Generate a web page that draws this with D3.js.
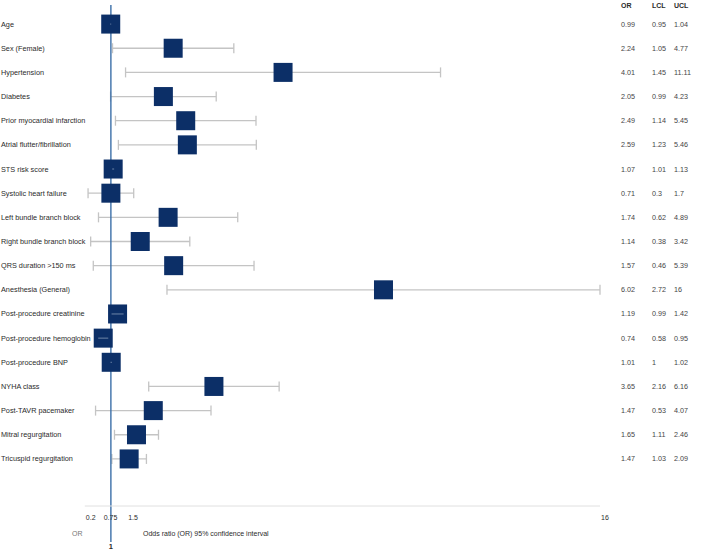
<!DOCTYPE html>
<html lang="en">
<head>
  <meta charset="UTF-8">
  <title>Forest plot</title>
  <style>
    body { margin: 0; padding: 0; background: #ffffff; font-family: "Liberation Sans", Arial, sans-serif; }
  </style>
</head>
<body>
<div id="chart"></div>
<script src="https://d3js.org/d3.v7.min.js"></script>
<script>
  const labels = ["Age", "Sex (Female)", "Hypertension", "Diabetes", "Prior myocardial infarction",
    "Atrial flutter/fibrillation", "STS risk score", "Systolic heart failure", "Left bundle branch block",
    "Right bundle branch block", "QRS duration >150 ms", "Anesthesia (General)", "Post-procedure creatinine",
    "Post-procedure hemoglobin", "Post-procedure BNP", "NYHA class", "Post-TAVR pacemaker",
    "Mitral regurgitation", "Tricuspid regurgitation"];
  const orVals  = [0.99, 2.24, 4.01, 2.05, 2.49, 2.59, 1.07, 0.71, 1.74, 1.14, 1.57, 6.02, 1.19, 0.74, 1.01, 3.65, 1.47, 1.65, 1.47];
  const lclVals = [0.95, 1.05, 1.45, 0.99, 1.14, 1.23, 1.01, 0.3, 0.62, 0.38, 0.46, 2.72, 0.99, 0.58, 1, 2.16, 0.53, 1.11, 1.03];
  const uclVals = [1.04, 4.77, 11.11, 4.23, 5.45, 5.46, 1.13, 1.7, 4.89, 3.42, 5.39, 16, 1.42, 0.95, 1.02, 6.16, 4.07, 2.46, 2.09];
  const tickVals = [0.2, 0.75, 1.5, 16];
  const refValue = 1;

  const width = 709, height = 550;
  const svg = d3.select("#chart").append("svg")
    .attr("width", width).attr("height", height);

  const x = d3.scaleLinear().domain([0.2, 16]).range([84.8, 600]);
  const y = d3.scaleBand().domain(labels).range([12, 471]);
  const cy = d => y(d) + y.bandwidth() / 2;
  const box = 19;
  const ink = "#2b2b2b";

  const rows = labels.map((l, i) => ({ label: l, or: orVals[i], lcl: lclVals[i], ucl: uclVals[i] }));

  // row labels
  svg.append("g").selectAll("text").data(rows).enter().append("text")
    .attr("x", 1).attr("y", d => cy(d.label) + 2.5)
    .attr("font-size", 7.3).attr("fill", ink).text(d => d.label);

  // whiskers
  const wg = svg.append("g").attr("stroke", "#c4c4c4").attr("stroke-width", 1.3);
  wg.selectAll("line.ci").data(rows).enter().append("line")
    .attr("x1", d => x(d.lcl)).attr("x2", d => x(d.ucl))
    .attr("y1", d => cy(d.label)).attr("y2", d => cy(d.label));
  wg.selectAll("line.lo").data(rows).enter().append("line")
    .attr("x1", d => x(d.lcl)).attr("x2", d => x(d.lcl))
    .attr("y1", d => cy(d.label) - 5).attr("y2", d => cy(d.label) + 5);
  wg.selectAll("line.hi").data(rows).enter().append("line")
    .attr("x1", d => x(d.ucl)).attr("x2", d => x(d.ucl))
    .attr("y1", d => cy(d.label) - 5).attr("y2", d => cy(d.label) + 5);

  // reference line at OR = 1
  svg.append("line")
    .attr("x1", x(refValue)).attr("x2", x(refValue))
    .attr("y1", 5).attr("y2", 542)
    .attr("stroke", "#3b6fa8").attr("stroke-width", 1.4);

  // boxes (placed at the middle of the interval)
  svg.append("g").selectAll("rect").data(rows).enter().append("rect")
    .attr("x", d => x((d.lcl + d.ucl) / 2) - box / 2)
    .attr("y", d => cy(d.label) - box / 2)
    .attr("width", box).attr("height", box)
    .attr("fill", "#0c2f67");

  // short intervals show through the box
  svg.append("g").selectAll("line").data(rows.filter(d => x(d.ucl) - x(d.lcl) < box)).enter().append("line")
    .attr("x1", d => x(d.lcl) + 1).attr("x2", d => x(d.ucl) - 1)
    .attr("y1", d => cy(d.label)).attr("y2", d => cy(d.label))
    .attr("stroke", "#6f86a8").attr("stroke-width", 1);

  // value columns
  const cols = [["OR", "or", 621], ["LCL", "lcl", 652], ["UCL", "ucl", 674]];
  cols.forEach(([head, key, cx]) => {
    svg.append("text").attr("x", cx).attr("y", 8).attr("font-size", 7)
      .attr("font-weight", "bold").attr("fill", ink).text(head);
    svg.append("g").selectAll("text").data(rows).enter().append("text")
      .attr("x", cx).attr("y", d => cy(d.label) + 2.5)
      .attr("font-size", 7.2).attr("fill", "#444").text(d => d[key]);
  });

  // axis
  svg.append("line")
    .attr("x1", x(0.2)).attr("x2", x(16)).attr("y1", 506).attr("y2", 506)
    .attr("stroke", "#e0e0e0").attr("stroke-width", 1);
  svg.append("g").selectAll("text").data(tickVals).enter().append("text")
    .attr("x", d => x(d) + 1).attr("y", 520).attr("font-size", 7).attr("fill", ink).text(d => d);
  svg.append("text").attr("x", x(refValue)).attr("y", 549).attr("text-anchor", "middle")
    .attr("font-size", 7.5).attr("font-weight", "bold").attr("fill", ink).text(refValue);

  svg.append("text").attr("x", 72).attr("y", 536).attr("font-size", 7).attr("fill", "#777").text("OR");
  svg.append("text").attr("x", 143).attr("y", 536).attr("font-size", 7).attr("fill", ink)
    .text("Odds ratio (OR) 95% confidence interval");
</script>
</body>
</html>
